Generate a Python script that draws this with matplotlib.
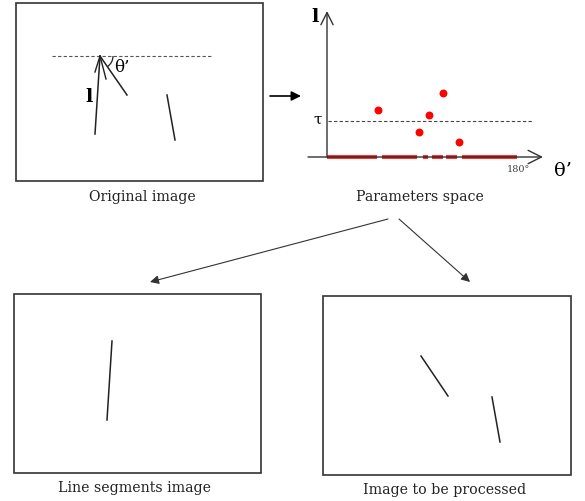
import matplotlib

matplotlib.use("Agg")
import matplotlib.pyplot as plt
from matplotlib.patches import Rectangle, Arc

plt.rcParams["font.family"] = ["DejaVu Serif"]

W, H = 585, 502

# panel frames (x0, y0, x1, y1) in pixel coords
BOXES = [(16, 4, 263, 182), (14, 295, 261, 474), (323, 297, 571, 476)]
CAPTIONS = ["Original image", "Parameters space", "Line segments image", "Image to be processed"]
CAPTION_POS = [(142, 197), (420, 197), (135, 488), (445, 490)]

# line segments drawn inside the images
ORIG_SEGMENTS = [((127, 96), (100, 57)), ((167, 96), (175, 141))]
SEG_IMAGE_SEGMENTS = [((112, 342), (107, 421))]
PROC_SEGMENTS = [((421, 357), (448, 397)), ((492, 398), (500, 443))]

# parameter space points (theta', l) in pixel coords
PTS_X = [378, 443, 429, 419, 459]
PTS_Y = [111, 94, 116, 133, 143]
# red segments on the theta' axis
RED_SEGS = [(327, 377), (382, 417), (423, 428), (432, 443), (446, 457), (462, 517)]

fig = plt.figure(figsize=(W / 100, H / 100), dpi=100)
ax = fig.add_axes([0, 0, 1, 1])
ax.set_xlim(0, W)
ax.set_ylim(H, 0)
ax.axis("off")

for x0, y0, x1, y1 in BOXES:
    ax.add_patch(Rectangle((x0, y0), x1 - x0, y1 - y0, fill=False, ec="#333333", lw=1.2))

for txt, (x, y) in zip(CAPTIONS, CAPTION_POS):
    ax.text(x, y, txt, ha="center", va="center", fontsize=10.2, color="#222222")

# original image
ax.plot([52, 212], [57, 57], color="#555555", lw=0.8, ls=(0, (3, 2)))
ax.plot([95, 100], [135, 57], color="#222222", lw=1.1)
ax.plot([95, 100, 106], [73, 57, 80], color="#222222", lw=1.0)  # open arrow head
for (xa, ya), (xb, yb) in ORIG_SEGMENTS:
    ax.plot([xa, xb], [ya, yb], color="#222222", lw=1.1)
ax.add_patch(Arc((100, 57), 26, 26, theta1=0, theta2=55, color="#222222", lw=0.9))
ax.text(114, 68, "θ’", fontsize=12, ha="left", va="center")
ax.text(89, 97, "l", fontsize=14, fontweight="bold", ha="center", va="center")

# arrow to parameter space
ax.annotate("", xy=(301, 97), xytext=(270, 97),
            arrowprops=dict(arrowstyle="-|>", lw=1.2, color="black",
                            shrinkA=0, shrinkB=0, mutation_scale=14))

# parameter space axes
ax.annotate("", xy=(327, 12), xytext=(327, 158),
            arrowprops=dict(arrowstyle="->", lw=1.0, color="#333333",
                            shrinkA=0, shrinkB=0, mutation_scale=22))
ax.annotate("", xy=(543, 158), xytext=(308, 158),
            arrowprops=dict(arrowstyle="->", lw=1.0, color="#333333",
                            shrinkA=0, shrinkB=0, mutation_scale=24))
for xa, xb in RED_SEGS:
    ax.plot([xa, xb], [158, 158], color="red", lw=2.6, solid_capstyle="butt")
ax.plot([328, 533], [122, 122], color="#444444", lw=0.8, ls=(0, (3, 2)))
ax.scatter(PTS_X, PTS_Y, s=22, color="red", zorder=3)
ax.text(315, 17, "l", fontsize=14, fontweight="bold", ha="center", va="center")
ax.text(318, 120, "τ", fontsize=11, ha="center", va="center")
ax.text(518, 170, "180°", fontsize=7, ha="center", va="center", color="#444444")
ax.text(563, 171, "θ’", fontsize=14, ha="center", va="center")

# arrows to bottom panels
ax.annotate("", xy=(150, 283), xytext=(388, 220),
            arrowprops=dict(arrowstyle="-|>", lw=0.8, color="#333333",
                            shrinkA=0, shrinkB=0, mutation_scale=13))
ax.annotate("", xy=(470, 283), xytext=(399, 220),
            arrowprops=dict(arrowstyle="-|>", lw=0.8, color="#333333",
                            shrinkA=0, shrinkB=0, mutation_scale=13))

for segs in (SEG_IMAGE_SEGMENTS, PROC_SEGMENTS):
    for (xa, ya), (xb, yb) in segs:
        ax.plot([xa, xb], [ya, yb], color="#222222", lw=1.1)

fig.savefig("out.png", dpi=100)
